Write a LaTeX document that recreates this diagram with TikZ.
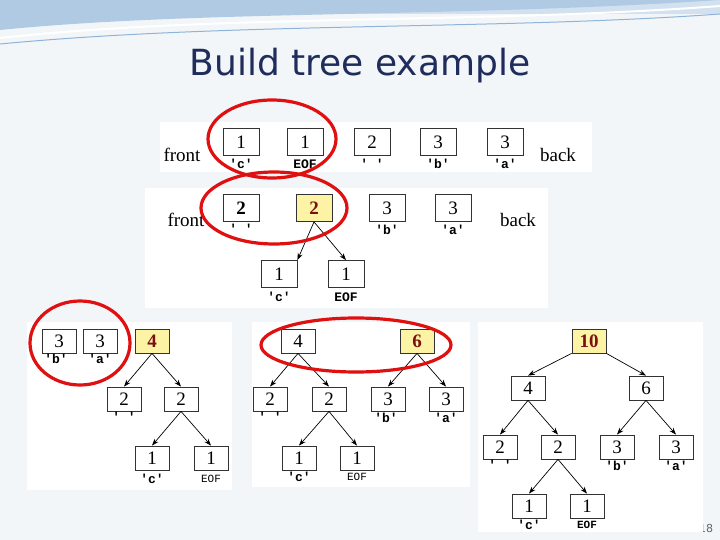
\documentclass[tikz,border=0pt]{standalone}
\usepackage{fontspec}
\setmainfont{Liberation Serif}
\newfontfamily\titlefont{DejaVu Sans}
\newfontfamily\monofont{Liberation Mono}
\usetikzlibrary{arrows.meta}
\definecolor{pagebg}{HTML}{F3F6F9}
\definecolor{titlec}{HTML}{1F2D5C}
\definecolor{yel}{HTML}{FCF3A4}
\definecolor{dred}{HTML}{7A1010}
\definecolor{ringred}{HTML}{E01010}
\definecolor{swoosh}{HTML}{8FB3D9}
\tikzset{
  bx/.style={draw=black!80,line width=0.8pt,minimum width=36pt,minimum height=27pt,inner sep=0pt,fill=white,font=\fontsize{19}{19}\selectfont},
  ybx/.style={bx,fill=yel,font=\fontsize{19}{19}\selectfont\bfseries\color{dred}},
  sb/.style={minimum width=34pt,minimum height=24pt},
  lab/.style={font=\monofont\fontsize{13}{13}\selectfont\bfseries,inner sep=0pt},
  slab/.style={font=\monofont\fontsize{11}{11}\selectfont,inner sep=0pt},
  word/.style={font=\fontsize{19}{19}\selectfont,inner sep=0pt},
  panel/.style={fill=white,draw=none},
  ring/.style={draw=ringred,line width=3.2pt},
  ar/.style={-{Stealth[length=7pt,width=5pt]},line width=0.7pt}
}
\begin{document}
\begin{tikzpicture}[x=1pt,y=-1pt]
\useasboundingbox (0,0) rectangle (720,540);
\fill[pagebg] (0,0) rectangle (720,540);
% header swooshes
\fill[swoosh!40] (0,0) rectangle (720,14);
\fill[swoosh!70] (0,30) .. controls (200,10) and (450,18) .. (720,0) -- (0,0) -- cycle;
\draw[white,line width=2pt] (0,38) .. controls (220,14) and (480,24) .. (720,6);
\draw[swoosh,line width=1pt] (0,44) .. controls (230,22) and (500,30) .. (720,14);
\node[font=\titlefont\fontsize{36}{36}\selectfont,text=titlec,inner sep=0pt] (title) at (360,66) {Build tree example};
\node[text=black!60,font=\titlefont\fontsize{11}{11}\selectfont,inner sep=0pt] (pg) at (706,528) {18};
% panels
\fill[panel] (160,122) rectangle (592,172);
\fill[panel] (145,188) rectangle (548,308);
\fill[panel] (27,322) rectangle (232,490);
\fill[panel] (252,322) rectangle (470,487);
\fill[panel] (478,322) rectangle (703,532);
% row 1
\node[word] (f1) at (182,155) {front};
\node[word] (b1) at (558,155) {back};
\node[bx] (r1a) at (241,142) {1}; \node[lab] (l1a) at (241,164) {'c'};
\node[bx] (r1b) at (305,142) {1}; \node[lab] (l1b) at (305,164) {EOF};
\node[bx] (r1c) at (372,142) {2}; \node[lab] (l1c) at (372,164) {' '};
\node[bx] (r1d) at (438,142) {3}; \node[lab] (l1d) at (438,164) {'b'};
\node[bx] (r1e) at (505,142) {3}; \node[lab] (l1e) at (505,164) {'a'};
% row 2
\node[word] (f2) at (186,220) {front};
\node[word] (b2) at (518,220) {back};
\node[bx,font=\fontsize{19}{19}\selectfont\bfseries] (r2a) at (241,208) {2}; \node[lab] (l2a) at (241,229) {' '};
\node[ybx] (r2b) at (314,208) {2};
\node[bx] (r2c) at (387,208) {3}; \node[lab] (l2c) at (387,230) {'b'};
\node[bx] (r2d) at (453,208) {3}; \node[lab] (l2d) at (453,230) {'a'};
\node[bx] (r2e) at (279,274) {1}; \node[lab] (l2e) at (279,297) {'c'};
\node[bx] (r2f) at (346,274) {1}; \node[lab] (l2f) at (346,297) {EOF};
\draw[ar] (r2b.south) -- (r2e.north east);
\draw[ar] (r2b.south) -- (r2f.north);
% panel 3
\node[bx,sb] (p3a) at (59,341) {3}; \node[lab] (l3a) at (56,359) {'b'};
\node[bx,sb] (p3b) at (100,341) {3}; \node[lab] (l3b) at (100,359) {'a'};
\node[ybx,sb] (p3c) at (152,341) {4};
\node[bx,sb] (p3d) at (124,399) {2}; \node[lab] (l3d) at (124,417) {' '};
\node[bx,sb] (p3e) at (181,399) {2};
\node[bx,sb] (p3f) at (152,458) {1}; \node[lab] (l3f) at (152,479) {'c'};
\node[bx,sb] (p3g) at (211,458) {1}; \node[slab] (l3g) at (211,479) {EOF};
\draw[ar] (p3c.south) -- (p3d.north);
\draw[ar] (p3c.south) -- (p3e.north);
\draw[ar] (p3e.south) -- (p3f.north);
\draw[ar] (p3e.south) -- (p3g.north);
% panel 4
\node[bx,sb] (p4a) at (298,341) {4};
\node[ybx,sb] (p4b) at (417,341) {6};
\node[bx,sb] (p4c) at (270,399) {2}; \node[lab] (l4c) at (270,417) {' '};
\node[bx,sb] (p4d) at (329,399) {2};
\node[bx,sb] (p4e) at (388,399) {3}; \node[lab] (l4e) at (386,418) {'b'};
\node[bx,sb] (p4f) at (446,399) {3}; \node[lab] (l4f) at (446,418) {'a'};
\node[bx,sb] (p4g) at (299,458) {1}; \node[lab] (l4g) at (299,477) {'c'};
\node[bx,sb] (p4h) at (357,458) {1}; \node[slab] (l4h) at (357,477) {EOF};
\draw[ar] (p4a.south) -- (p4c.north);
\draw[ar] (p4a.south) -- (p4d.north);
\draw[ar] (p4b.south) -- (p4e.north);
\draw[ar] (p4b.south) -- (p4f.north);
\draw[ar] (p4d.south) -- (p4g.north);
\draw[ar] (p4d.south) -- (p4h.north);
% panel 5
\node[ybx,sb] (p5a) at (589,341) {10};
\node[bx,sb] (p5b) at (528,388) {4};
\node[bx,sb] (p5c) at (646,388) {6};
\node[bx,sb] (p5d) at (500,447) {2}; \node[lab] (l5d) at (500,465) {' '};
\node[bx,sb] (p5e) at (558,447) {2};
\node[bx,sb] (p5f) at (617,447) {3}; \node[lab] (l5f) at (617,466) {'b'};
\node[bx,sb] (p5g) at (676,447) {3}; \node[lab] (l5g) at (676,466) {'a'};
\node[bx,sb] (p5h) at (529,506) {1}; \node[lab] (l5h) at (529,525) {'c'};
\node[bx,sb] (p5i) at (587,506) {1}; \node[lab,font=\monofont\fontsize{11}{11}\selectfont\bfseries] (l5i) at (587,525) {EOF};
\draw[ar] (p5a.south west) -- (p5b.north);
\draw[ar] (p5a.south east) -- (p5c.north);
\draw[ar] (p5b.south) -- (p5d.north);
\draw[ar] (p5b.south) -- (p5e.north);
\draw[ar] (p5c.south) -- (p5f.north);
\draw[ar] (p5c.south) -- (p5g.north);
\draw[ar] (p5e.south) -- (p5h.north);
\draw[ar] (p5e.south) -- (p5i.north);
% red rings
\draw[ring] (272,139) ellipse [x radius=64,y radius=39];
\draw[ring] (274,208) ellipse [x radius=73,y radius=36];
\draw[ring] (80,343) ellipse [x radius=50,y radius=42];
\draw[ring] (356,345) ellipse [x radius=95,y radius=27];
\end{tikzpicture}
\end{document}
